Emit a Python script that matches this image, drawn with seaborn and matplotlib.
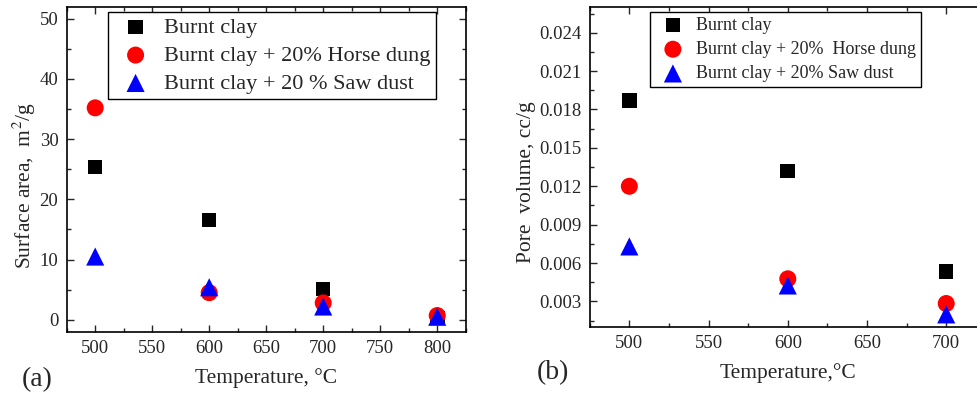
import numpy as np
import pandas as pd
import matplotlib
matplotlib.use("Agg")
import matplotlib.pyplot as plt
from matplotlib.ticker import MultipleLocator
import seaborn as sns

# ================= DATA =================
SERIES = ['Burnt clay', 'Burnt clay + 20% Horse dung', 'Burnt clay + 20 % Saw dust']
LABELS_B = ['Burnt clay', 'Burnt clay + 20%  Horse dung', 'Burnt clay + 20% Saw dust']

temp_a = [500, 600, 700, 800]
area_clay = [25.4, 16.6, 5.1, 0.3]
area_horse = [35.2, 4.5, 2.8, 0.7]
area_saw = [10.5, 5.4, 2.2, 0.5]

temp_b = [500, 600, 700]
pore_clay = [0.0187, 0.0132, 0.00534]
pore_horse = [0.0120, 0.00477, 0.00284]
pore_saw = [0.0073, 0.00425, 0.00199]

COLORS = ['black', 'red', 'blue']
MARKERS = ['s', 'o', '^']
SIZES = [110, 150, 170]

sns.set_theme(style="ticks")
plt.rcParams['font.family'] = ['Liberation Serif', 'DejaVu Serif']
plt.rcParams['mathtext.fontset'] = 'stix'


def long_df(x, ys, names):
    rows = []
    for name, y in zip(names, ys):
        for xi, yi in zip(x, y):
            rows.append({'x': xi, 'y': yi, 'series': name})
    return pd.DataFrame(rows)


def draw_panel(ax, df, names, legend_fs, spacing):
    for name, c, m, s in zip(names, COLORS, MARKERS, SIZES):
        sub = df[df['series'] == name]
        sns.scatterplot(data=sub, x='x', y='y', ax=ax, color=c, marker=m, s=s,
                        edgecolor='none', label=name, zorder=3)
    ax.tick_params(direction='in', which='both', top=True, right=True,
                   labelsize=13.5, pad=6)
    ax.tick_params(which='major', length=5, width=1)
    ax.tick_params(which='minor', length=3, width=1)
    for sp in ax.spines.values():
        sp.set_linewidth(1.2)
        sp.set_color('black')
    leg = ax.legend(loc='upper left', fontsize=legend_fs, frameon=True,
                    fancybox=False, edgecolor='black', framealpha=1,
                    handletextpad=0.3, borderpad=0.25, labelspacing=spacing,
                    borderaxespad=0)
    leg.get_frame().set_linewidth(1.0)
    return leg


fig = plt.figure(figsize=(9.78, 3.95), dpi=100)

# ================= PANEL A =================
ax1 = fig.add_axes([0.0682, 0.160, 0.408, 0.823])
df_a = long_df(temp_a, [area_clay, area_horse, area_saw], SERIES)
leg1 = draw_panel(ax1, df_a, SERIES, 16, 0.33)
leg1.set_bbox_to_anchor((0.103, 0.984))
ax1.set_xlim(475, 825)
ax1.set_ylim(-2, 52)
ax1.xaxis.set_major_locator(MultipleLocator(50))
ax1.xaxis.set_minor_locator(MultipleLocator(25))
ax1.yaxis.set_major_locator(MultipleLocator(10))
ax1.yaxis.set_minor_locator(MultipleLocator(5))
ax1.set_xlabel('Temperature, °C', fontsize=15.5, labelpad=8)
ax1.set_ylabel('Surface area,  m$^2$/g', fontsize=15.5)
ax1.yaxis.set_label_coords(-0.073, 0.45)
fig.text(0.0225, 0.04, '(a)', fontsize=20, va='center')

# ================= PANEL B =================
ax2 = fig.add_axes([0.603, 0.172, 0.405, 0.810])
df_b = long_df(temp_b, [pore_clay, pore_horse, pore_saw], LABELS_B)
leg2 = draw_panel(ax2, df_b, LABELS_B, 13, 0.4)
leg2.set_bbox_to_anchor((0.153, 0.984))
ax2.set_xlim(475, 725)
ax2.set_ylim(0.001, 0.026)
ax2.xaxis.set_major_locator(MultipleLocator(50))
ax2.xaxis.set_minor_locator(MultipleLocator(25))
ax2.yaxis.set_major_locator(MultipleLocator(0.003))
ax2.yaxis.set_minor_locator(MultipleLocator(0.0015))
ax2.yaxis.set_major_formatter(plt.FormatStrFormatter('%.3f'))
ax2.set_xlabel('Temperature,°C', fontsize=15.5, labelpad=8)
ax2.set_ylabel('Pore  volume, cc/g', fontsize=15.5)
ax2.yaxis.set_label_coords(-0.135, 0.453)
fig.text(0.549, 0.057, '(b)', fontsize=20, va='center')

fig.savefig('out.png', dpi=100)
